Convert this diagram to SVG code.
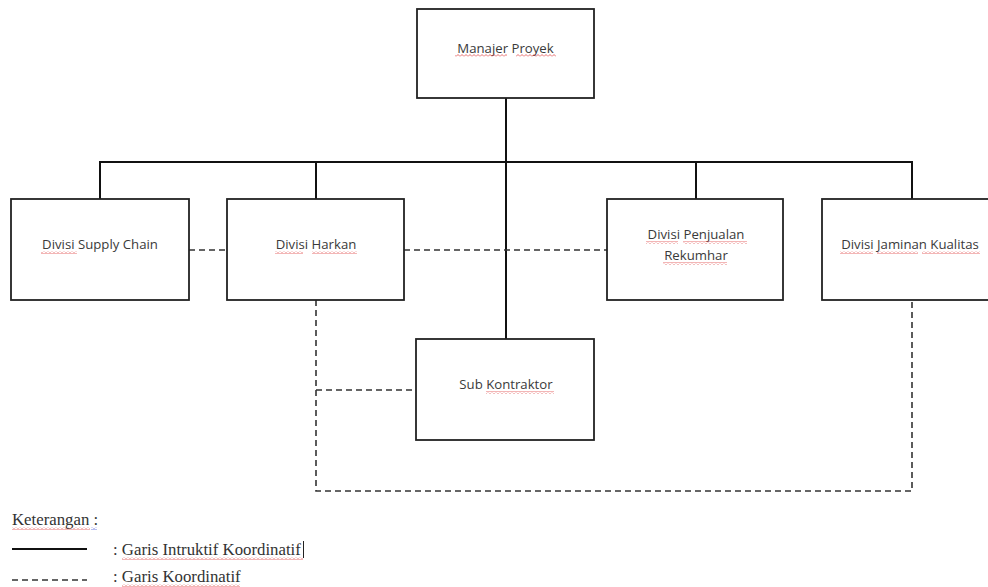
<svg xmlns="http://www.w3.org/2000/svg" width="988" height="587" viewBox="0 0 988 587">
  <defs>
    <style>
      .box { fill: #ffffff; stroke: #222222; stroke-width: 1.8; }
      .lbl { font-family: "Open Sans", "Liberation Sans", sans-serif; font-size: 13.2px; fill: #3a3a3a; text-anchor: middle; }
      .solid { fill: none; stroke: #111111; stroke-width: 2; }
      .dash { fill: none; stroke: #333333; stroke-width: 1.6; stroke-dasharray: 6 4; }
      .legend { font-family: "Liberation Serif", serif; font-size: 16.8px; fill: #333333; }
      .spell { fill: url(#wave); }
      .spellBlue { fill: url(#waveBlue); }
    </style>
    <!-- spell-check style wavy underline -->
    <pattern id="wave" width="4" height="3" patternUnits="userSpaceOnUse">
      <polyline points="0,2.5 2,0.5 4,2.5" fill="none" stroke="#e04848" stroke-width="0.8"/>
    </pattern>
    <pattern id="waveBlue" width="4" height="3" patternUnits="userSpaceOnUse">
      <polyline points="0,2.5 2,0.5 4,2.5" fill="none" stroke="#4a5ad8" stroke-width="0.8"/>
    </pattern>
  </defs>

  <!-- connectors -->
  <g id="connectors">
    <path class="solid" d="M506,98 V339"/>
    <path class="solid" d="M100,199 V162 H912 V199"/>
    <path class="solid" d="M316,162 V199"/>
    <path class="solid" d="M696,162 V199"/>
    <path class="dash" d="M189,250 H227"/>
    <path class="dash" d="M404,250 H607"/>
    <path class="dash" d="M316,300 V491 H912 V300"/>
    <path class="dash" d="M316,390 H416"/>
  </g>

  <g id="manajer-proyek">
    <rect class="box" x="417" y="9" width="177" height="89"/>
    <text class="lbl" x="505.5" y="53">Manajer Proyek</text>
    <rect class="spell" x="455" y="54" width="52" height="3"/>
    <rect class="spell" x="516" y="54" width="40" height="3"/>
  </g>

  <g id="divisi-supply-chain">
    <rect class="box" x="11" y="199" width="178" height="101"/>
    <text class="lbl" x="100" y="249">Divisi Supply Chain</text>
    <rect class="spell" x="41" y="251" width="36" height="3"/>
  </g>

  <g id="divisi-harkan">
    <rect class="box" x="227" y="199" width="177" height="101"/>
    <text class="lbl" x="316" y="249">Divisi Harkan</text>
    <rect class="spell" x="275" y="251" width="28" height="3"/>
    <rect class="spell" x="312" y="251" width="45" height="3"/>
  </g>

  <g id="divisi-penjualan-rekumhar">
    <rect class="box" x="607" y="199" width="176" height="101"/>
    <text class="lbl" x="696" y="239">Divisi Penjualan</text>
    <text class="lbl" x="696" y="260">Rekumhar</text>
    <rect class="spell" x="646" y="241" width="32" height="3"/>
    <rect class="spell" x="683" y="241" width="64" height="3"/>
    <rect class="spell" x="663" y="262" width="64" height="3"/>
  </g>

  <g id="divisi-jaminan-kualitas">
    <rect class="box" x="822" y="199" width="177" height="101"/>
    <text class="lbl" x="910" y="249">Divisi Jaminan Kualitas</text>
    <rect class="spell" x="840" y="251" width="33" height="3"/>
    <rect class="spell" x="877" y="251" width="41" height="3"/>
    <rect class="spell" x="922" y="251" width="58" height="3"/>
  </g>

  <g id="sub-kontraktor">
    <rect class="box" x="416" y="339" width="178" height="101"/>
    <text class="lbl" x="506" y="389">Sub Kontraktor</text>
    <rect class="spell" x="486" y="391" width="68" height="3"/>
  </g>

  <g id="legend">
    <text class="legend" x="12" y="525">Keterangan :</text>
    <rect class="spell" x="12" y="527" width="78" height="3"/>
    <rect class="spellBlue" x="91" y="527" width="6" height="3"/>
    <path class="solid" d="M12,549 H87"/>
    <text class="legend" x="113" y="555">: Garis Intruktif Koordinatif</text>
    <rect class="spell" x="122" y="557" width="181" height="3"/>
    <!-- text caret -->
    <path d="M303.5,541 V558" stroke="#222222" stroke-width="1"/>
    <path class="dash" d="M12,580 H87" stroke-dasharray="7 4.5"/>
    <text class="legend" x="113" y="582">: Garis Koordinatif</text>
    <rect class="spell" x="122" y="584" width="118" height="3"/>
  </g>
</svg>
